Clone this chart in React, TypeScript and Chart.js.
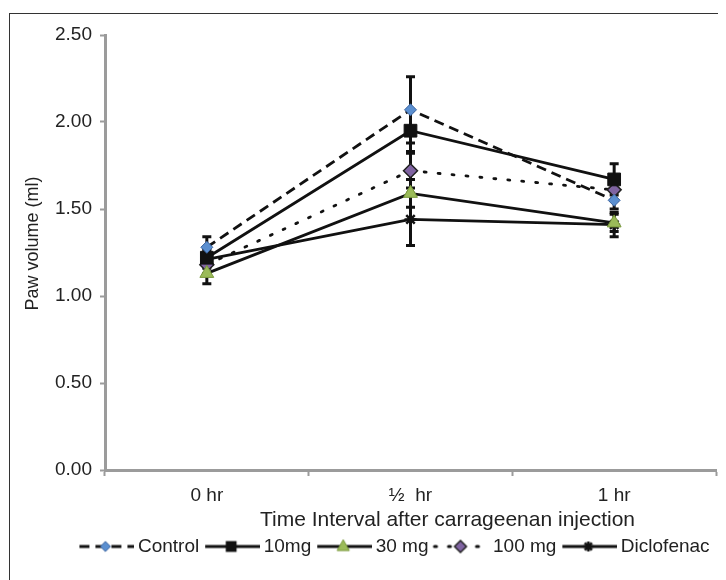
import React, { useEffect, useRef } from 'react';
import { Chart, registerables } from 'chart.js';

Chart.register(...registerables);

// ---- data ----
const categories = ['0 hr', '½  hr', '1 hr'];
const seriesNames = ['Control', '10mg', '30 mg', '100 mg', 'Diclofenac'];
const control = [1.28, 2.07, 1.55];
const mg10 = [1.22, 1.95, 1.67];
const mg30 = [1.13, 1.59, 1.42];
const mg100 = [1.18, 1.72, 1.61];
const diclofenac = [1.21, 1.44, 1.41];
const controlErr = [0.06, 0.19, 0.05];
const mg10Err = [0.05, 0.12, 0.09];
const mg30Err = [0.06, 0.08, 0.05];
const mg100Err = [0.05, 0.1, 0.06];
const diclofenacErr = [0.05, 0.15, 0.07];
const yTicks = [0, 0.5, 1, 1.5, 2, 2.5];
const yTitle = 'Paw volume (ml)';
const xTitle = 'Time Interval after carrageenan injection';

const FONT = "'Liberation Sans', Arial, sans-serif";
const TEXT = '#222222';
const AXIS = '#9b9b9b';

type Style = {
  dash: number[];
  marker: string;
  radius: number;
  fill: string;
  stroke: string;
  strokeW: number;
};

const styles: Style[] = [
  { dash: [10, 6], marker: 'rectRot', radius: 6, fill: '#5b8fd0', stroke: '#3b64a0', strokeW: 1 },
  { dash: [], marker: 'rect', radius: 9, fill: '#111111', stroke: '#111111', strokeW: 1 },
  { dash: [], marker: 'triangle', radius: 8, fill: '#9bbb59', stroke: '#7a9a3c', strokeW: 1 },
  { dash: [2, 12], marker: 'rectRot', radius: 7, fill: '#8064a2', stroke: '#222222', strokeW: 1.5 },
  { dash: [], marker: 'star', radius: 6, fill: '#111111', stroke: '#111111', strokeW: 2.5 },
];

const values = [control, mg10, mg30, mg100, diclofenac];
const errors = [controlErr, mg10Err, mg30Err, mg100Err, diclofenacErr];

function makeSample(st: Style): HTMLCanvasElement {
  const c = document.createElement('canvas');
  c.width = 62;
  c.height = 18;
  const ctx = c.getContext('2d')!;
  const cy = 9;
  ctx.strokeStyle = '#111111';
  ctx.lineWidth = 3;
  ctx.setLineDash(st.dash);
  ctx.lineCap = st.dash.length && st.dash[0] < 4 ? 'round' : 'butt';
  ctx.beginPath();
  ctx.moveTo(7, cy);
  ctx.lineTo(62, cy);
  ctx.stroke();
  ctx.setLineDash([]);
  const cx = 33;
  const r = st.radius * 0.85;
  ctx.fillStyle = st.fill;
  ctx.strokeStyle = st.stroke;
  ctx.lineWidth = st.strokeW;
  ctx.beginPath();
  if (st.marker === 'rect') {
    const s = r * Math.SQRT1_2;
    ctx.rect(cx - s, cy - s, 2 * s, 2 * s);
    ctx.fill();
  } else if (st.marker === 'rectRot') {
    ctx.moveTo(cx, cy - r);
    ctx.lineTo(cx + r, cy);
    ctx.lineTo(cx, cy + r);
    ctx.lineTo(cx - r, cy);
    ctx.closePath();
    ctx.fill();
    ctx.stroke();
  } else if (st.marker === 'triangle') {
    ctx.moveTo(cx, cy - r);
    ctx.lineTo(cx + r * 0.9, cy + r * 0.6);
    ctx.lineTo(cx - r * 0.9, cy + r * 0.6);
    ctx.closePath();
    ctx.fill();
    ctx.stroke();
  } else if (st.marker === 'star') {
    ctx.strokeStyle = '#111111';
    ctx.lineWidth = 2.5;
    ctx.moveTo(cx - r, cy);
    ctx.lineTo(cx + r, cy);
    ctx.moveTo(cx, cy - r);
    ctx.lineTo(cx, cy + r);
    ctx.moveTo(cx - r * 0.7, cy - r * 0.7);
    ctx.lineTo(cx + r * 0.7, cy + r * 0.7);
    ctx.moveTo(cx - r * 0.7, cy + r * 0.7);
    ctx.lineTo(cx + r * 0.7, cy - r * 0.7);
    ctx.stroke();
  }
  return c;
}

const errorBarPlugin = {
  id: 'errorBars',
  beforeDatasetsDraw(chart: any) {
    const ctx = chart.ctx;
    const yScale = chart.scales.y;
    ctx.save();
    ctx.strokeStyle = '#111111';
    errors.forEach((errs, i) => {
      const meta = chart.getDatasetMeta(i);
      errs.forEach((e, j) => {
        const pt = meta.data[j];
        if (!pt) return;
        const v = values[i][j];
        const x = pt.x;
        const yTop = yScale.getPixelForValue(v + e);
        const yBot = yScale.getPixelForValue(v - e);
        ctx.lineWidth = 3;
        ctx.beginPath();
        ctx.moveTo(x, yTop);
        ctx.lineTo(x, yBot);
        ctx.stroke();
        ctx.beginPath();
        ctx.moveTo(x - 4.5, yTop);
        ctx.lineTo(x + 4.5, yTop);
        ctx.moveTo(x - 4.5, yBot);
        ctx.lineTo(x + 4.5, yBot);
        ctx.stroke();
      });
    });
    ctx.restore();
  },
};

const legendShiftPlugin = {
  id: 'legendShift',
  afterLayout(chart: any) {
    const lg = chart.legend;
    if (lg) {
      lg.left += 27;
      lg.right += 27;
    }
  },
};

const axisTitlesPlugin = {
  id: 'axisTitles',
  afterDraw(chart: any) {
    const { ctx, chartArea } = chart;
    ctx.save();
    ctx.fillStyle = TEXT;
    ctx.textAlign = 'center';
    ctx.textBaseline = 'middle';
    ctx.font = `21px ${FONT}`;
    ctx.fillText(xTitle, (chartArea.left + chartArea.right) / 2 + 37, chartArea.bottom + 50);
    ctx.translate(25, (chartArea.top + chartArea.bottom) / 2 - 9);
    ctx.rotate(-Math.PI / 2);
    ctx.font = `18px ${FONT}`;
    ctx.fillText(yTitle, 0, 0);
    ctx.restore();
  },
};

export default function App() {
  const ref = useRef<HTMLCanvasElement | null>(null);

  useEffect(() => {
    if (!ref.current) return;
    const samples = styles.map(makeSample);
    const chart = new Chart(ref.current, {
      type: 'line',
      data: {
        labels: categories,
        datasets: seriesNames.map((name, i) => ({
          label: name,
          data: values[i],
          borderColor: '#111111',
          borderWidth: 2.8,
          borderDash: styles[i].dash,
          borderCapStyle: styles[i].dash.length && styles[i].dash[0] < 4 ? 'round' : 'butt',
          pointStyle: styles[i].marker as any,
          pointRadius: styles[i].radius,
          pointBackgroundColor: styles[i].fill,
          pointBorderColor: styles[i].stroke,
          pointBorderWidth: styles[i].strokeW,
          fill: false,
          tension: 0,
        })),
      },
      options: {
        responsive: false,
        animation: false,
        events: [],
        layout: { padding: { top: 27, right: 0, bottom: 14, left: 0 } },
        plugins: {
          tooltip: { enabled: false },
          legend: {
            position: 'bottom',
            labels: {
              usePointStyle: true,
              pointStyleWidth: 50,
              boxHeight: 14,
              padding: 5,
              color: TEXT,
              font: { family: FONT, size: 19 },
              generateLabels: (ch: any) => {
                const items = Chart.defaults.plugins.legend.labels.generateLabels(ch);
                return items.map((it: any, k: number) => ({ ...it, pointStyle: samples[k], lineWidth: 0 }));
              },
            },
          },
        },
        scales: {
          x: {
            type: 'category',
            offset: true,
            afterFit: (s: any) => {
              s.height = 62;
            },
            grid: {
              display: true,
              drawOnChartArea: false,
              drawTicks: true,
              offset: true,
              tickLength: 6,
              tickColor: AXIS,
              tickWidth: 2,
            },
            border: { display: true, color: AXIS, width: 3 },
            ticks: { color: TEXT, font: { family: FONT, size: 19 }, padding: 8, maxRotation: 0, autoSkip: false },
            title: { display: false },
          },
          y: {
            min: 0,
            max: 2.5,
            afterFit: (s: any) => {
              s.width = 97;
            },
            afterBuildTicks: (s: any) => {
              s.ticks = yTicks.map((v) => ({ value: v }));
            },
            grid: {
              display: true,
              drawOnChartArea: false,
              drawTicks: true,
              tickLength: 5,
              tickColor: AXIS,
              tickWidth: 2,
            },
            border: { display: true, color: AXIS, width: 3 },
            ticks: {
              color: TEXT,
              font: { family: FONT, size: 19 },
              padding: 8,
              callback: (v: any) => Number(v).toFixed(2),
            },
            title: { display: false },
          },
        },
      },
      plugins: [errorBarPlugin, legendShiftPlugin, axisTitlesPlugin],
    });
    return () => chart.destroy();
  }, []);

  return (
    <div style={{ position: 'relative', width: 718, height: 572, overflow: 'hidden' }}>
      <div
        style={{
          position: 'absolute',
          left: 1,
          top: 5,
          width: 800,
          height: 800,
          border: '1.5px solid #333',
          boxSizing: 'border-box',
        }}
      />
      <canvas ref={ref} width={718} height={572} style={{ position: 'relative', display: 'block' }} />
    </div>
  );
}
